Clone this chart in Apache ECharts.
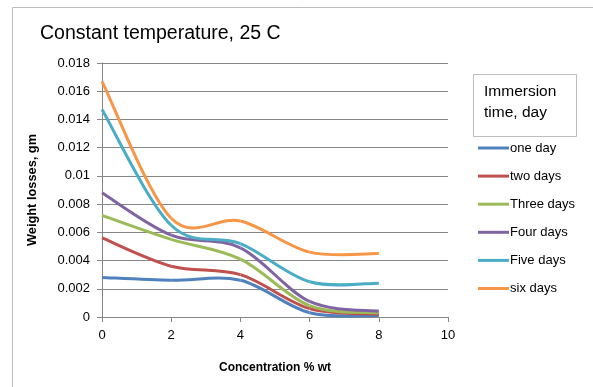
<!DOCTYPE html>
<html>
<head>
<meta charset="utf-8">
<script src="https://cdn.jsdelivr.net/npm/echarts@6/dist/echarts.min.js"></script>
<style>
html, body { margin: 0; padding: 0; background: #fff; }
#chart { width: 593px; height: 387px; }
</style>
</head>
<body>
<div id="chart"></div>
<script>
// concentration % wt
var concentration = [0, 2, 4, 6, 8];
var seriesNames = ['one day', 'two days', 'Three days', 'Four days', 'Five days', 'six days'];
var oneDay    = [0.0028, 0.0026, 0.0026, 0.0003, 0.0001];
var twoDays   = [0.0056, 0.0036, 0.0030, 0.0006, 0.0002];
var threeDays = [0.0072, 0.0055, 0.0041, 0.0008, 0.0003];
var fourDays  = [0.0088, 0.0058, 0.0049, 0.0011, 0.0004];
var fiveDays  = [0.0147, 0.0065, 0.0052, 0.0025, 0.0024];
var sixDays   = [0.0167, 0.0070, 0.0068, 0.0046, 0.0045];
var allValues = [oneDay, twoDays, threeDays, fourDays, fiveDays, sixDays];
var colors = ['#4F81BD', '#C0504D', '#9BBB59', '#8064A2', '#4BACC6', '#F79646'];

var font = '"Liberation Sans", Arial, sans-serif';

// excel-like smoothed line: catmull-rom segments through the axis coords
function renderSmooth(params, api) {
    var vals = allValues[params.seriesIndex];
    var i = params.dataIndex;
    if (i >= vals.length - 1) return null;
    var p = function (k) {
        k = Math.max(0, Math.min(vals.length - 1, k));
        return api.coord([concentration[k], vals[k]]);
    };
    var p0 = p(i - 1), p1 = p(i), p2 = p(i + 1), p3 = p(i + 2);
    return {
        type: 'bezierCurve',
        shape: {
            x1: p1[0], y1: p1[1],
            cpx1: p1[0] + (p2[0] - p0[0]) / 6, cpy1: p1[1] + (p2[1] - p0[1]) / 6,
            cpx2: p2[0] - (p3[0] - p1[0]) / 6, cpy2: p2[1] - (p3[1] - p1[1]) / 6,
            x2: p2[0], y2: p2[1]
        },
        style: { fill: null, stroke: colors[params.seriesIndex], lineWidth: 3 }
    };
}

var series = [];
for (var i = 0; i < seriesNames.length; i++) {
    var pts = [];
    for (var j = 0; j < concentration.length; j++) {
        pts.push([concentration[j], allValues[i][j]]);
    }
    series.push({
        name: seriesNames[i],
        type: 'custom',
        renderItem: renderSmooth,
        encode: { x: 0, y: 1 },
        itemStyle: { color: colors[i] },
        data: pts
    });
}

var chart = echarts.init(document.getElementById('chart'));
chart.setOption({
    animation: false,
    color: colors,
    title: {
        text: 'Constant temperature, 25 C',
        left: 35,
        top: 19,
        textStyle: { fontFamily: font, fontSize: 19.5, fontWeight: 'normal', color: '#000' }
    },
    legend: {
        orient: 'vertical',
        left: 478,
        top: 141,
        padding: 0,
        itemWidth: 31,
        itemHeight: 3,
        itemGap: 14.1,
        icon: 'rect',
        textStyle: { fontFamily: font, fontSize: 13, color: '#000', padding: [0, 0, 0, -4], lineHeight: 14 },
        data: seriesNames
    },
    grid: { left: 102, right: 145, top: 63, bottom: 70 },
    xAxis: {
        type: 'value',
        min: 0,
        max: 10,
        interval: 2,
        name: 'Concentration % wt',
        nameLocation: 'middle',
        nameGap: 45,
        nameTextStyle: { fontFamily: font, fontSize: 12, fontWeight: 'bold', color: '#000' },
        axisLine: { show: true, lineStyle: { color: '#868686', width: 1 } },
        axisTick: { show: true, length: 5, lineStyle: { color: '#868686' } },
        axisLabel: { fontFamily: font, fontSize: 13, color: '#000', margin: 12 },
        splitLine: { show: false }
    },
    yAxis: {
        type: 'value',
        min: 0,
        max: 0.018,
        interval: 0.002,
        name: 'Weight losses, gm',
        nameLocation: 'middle',
        nameGap: 63,
        nameRotate: 90,
        nameTextStyle: { fontFamily: font, fontSize: 12.8, fontWeight: 'bold', color: '#000' },
        axisLine: { show: true, lineStyle: { color: '#868686', width: 1 } },
        axisTick: { show: true, length: 5, lineStyle: { color: '#868686' } },
        axisLabel: {
            fontFamily: font, fontSize: 13, color: '#000', margin: 12,
            formatter: function (v) { return String(+v.toFixed(3)); }
        },
        splitLine: { show: true, lineStyle: { color: '#868686', width: 1 } }
    },
    graphic: [
        // outer frame of chart area
        { type: 'line', shape: { x1: 12.5, y1: 7.5, x2: 593, y2: 7.5 }, style: { stroke: '#bdbdbd', lineWidth: 1 } },
        { type: 'line', shape: { x1: 12.5, y1: 7.5, x2: 12.5, y2: 387 }, style: { stroke: '#bdbdbd', lineWidth: 1 } },
        // legend title box
        { type: 'rect', shape: { x: 473.5, y: 74.5, width: 103, height: 62 }, style: { fill: '#fff', stroke: '#bdbdbd', lineWidth: 1 } },
        { type: 'text', left: 484, top: 81, style: { text: 'Immersion\ntime, day', fontFamily: font, fontSize: 15.5, lineHeight: 21, fill: '#000' } }
    ],
    series: series
});
</script>
</body>
</html>
